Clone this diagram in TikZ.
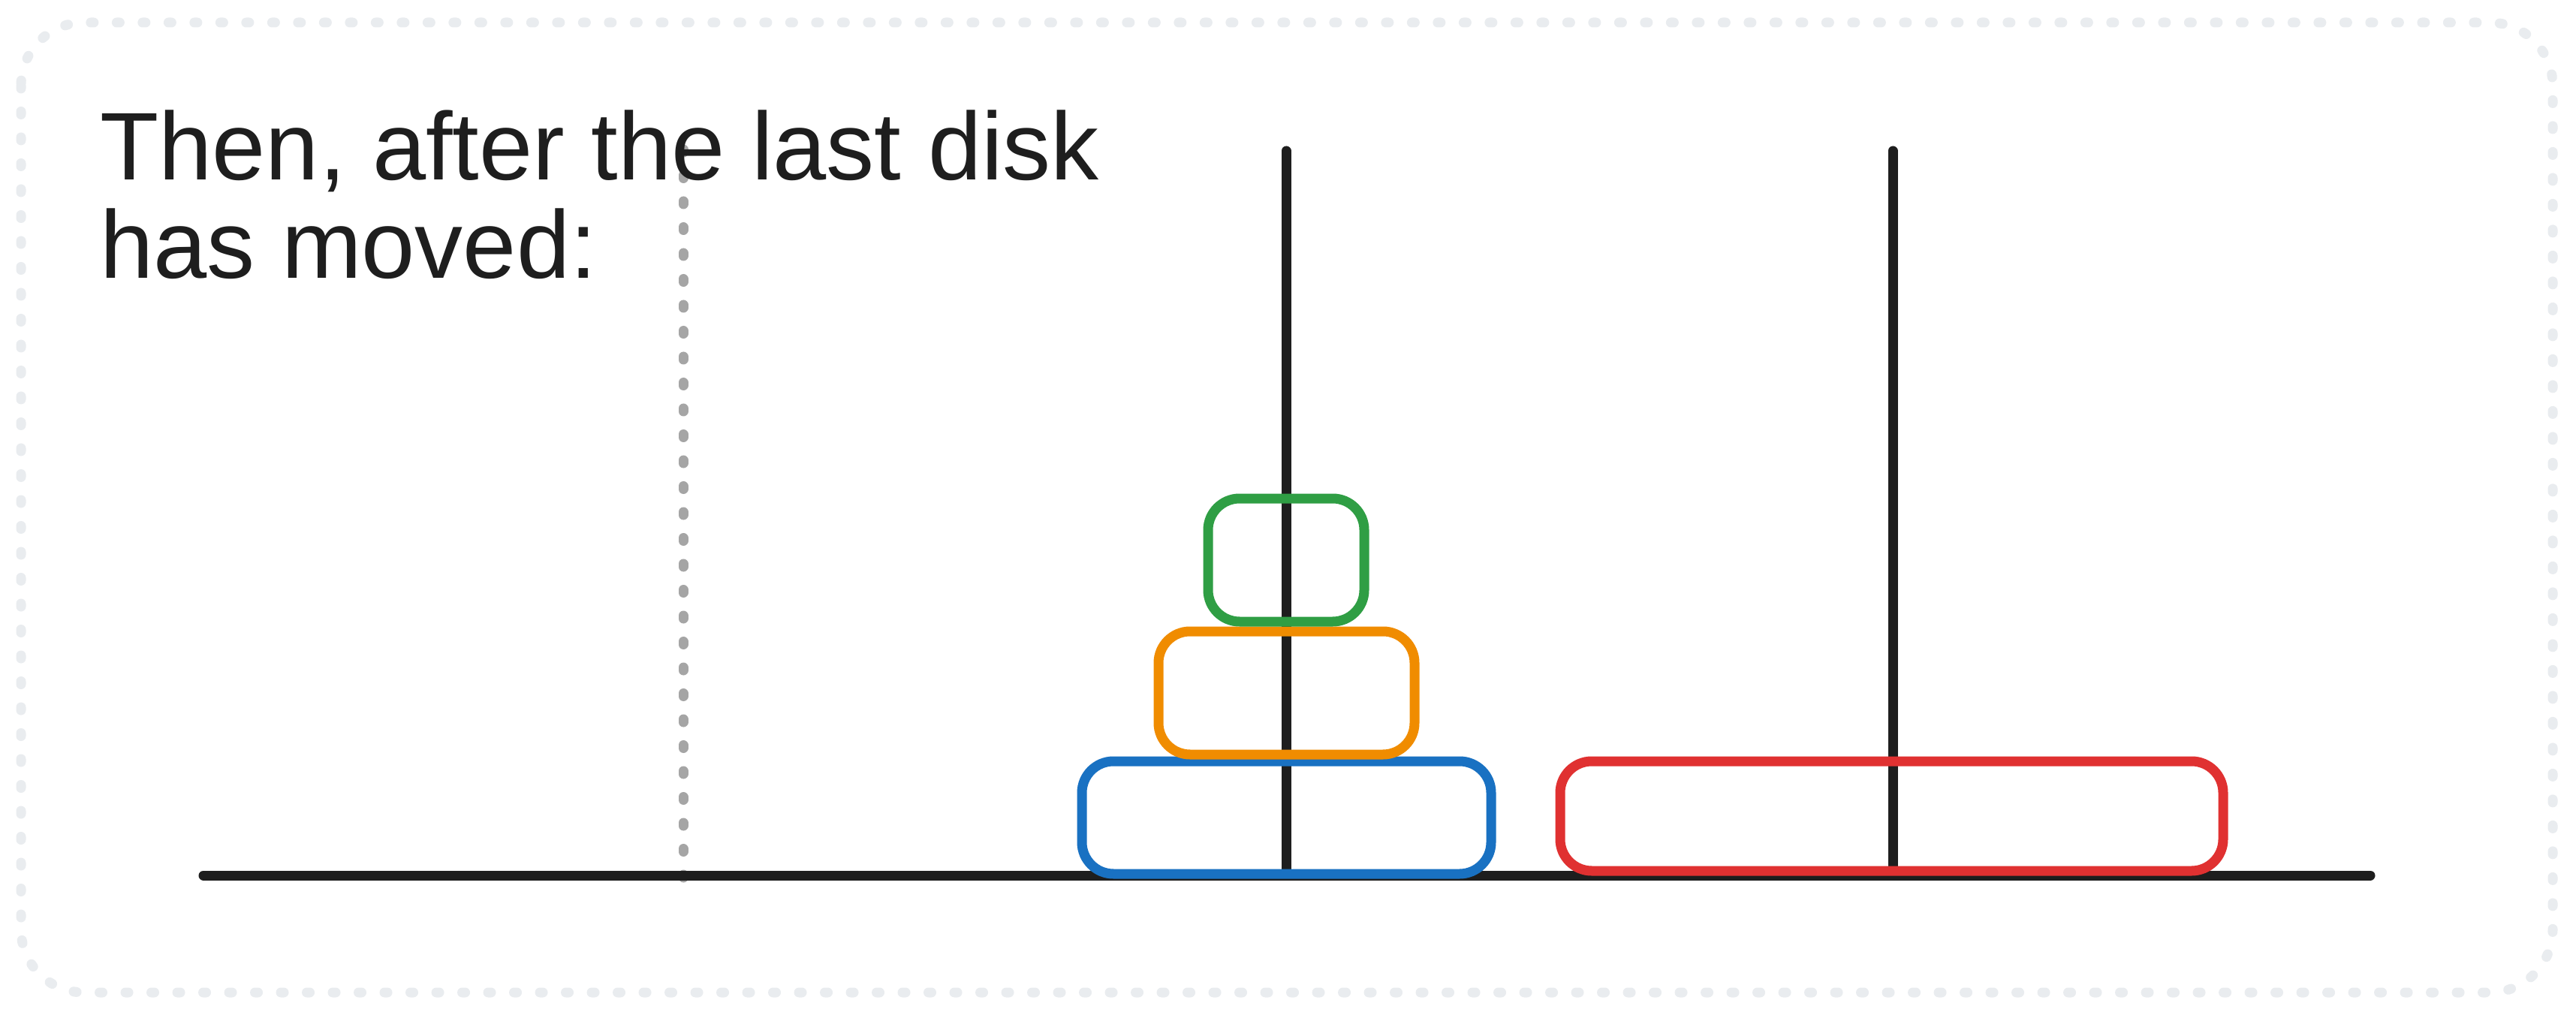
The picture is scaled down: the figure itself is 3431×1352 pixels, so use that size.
\documentclass[tikz,border=0pt]{standalone}
\usepackage{fontspec}
\setmainfont{Liberation Sans}
\definecolor{inkc}{HTML}{1E1E1E}
\definecolor{framec}{HTML}{E9ECEF}
\definecolor{guidec}{HTML}{A5A5A5}
\definecolor{dgreen}{HTML}{2F9E44}
\definecolor{dorange}{HTML}{F08C00}
\definecolor{dblue}{HTML}{1971C2}
\definecolor{dred}{HTML}{E03131}
\begin{document}
\begin{tikzpicture}[x=0.5pt,y=-0.5pt,
  ink/.style={line width=6.5pt, draw=inkc, line cap=round},
  frame/.style={line width=6.5pt, draw=framec, line cap=round, dash pattern=on 2pt off 15.25pt, rounded corners=42pt},
  guide/.style={line width=6.5pt, draw=guidec, line cap=round, dash pattern=on 2pt off 15.25pt},
  disk/.style={rectangle, line width=6.5pt, rounded corners=21pt, inner sep=0pt, outer sep=0pt},
  label/.style={anchor=base west, inner sep=0pt, text=inkc, font=\fontsize{64}{65.5}\selectfont}]
\useasboundingbox (0,0) rectangle (3431,1352);
\fill[white] (0,0) rectangle (3431,1352);
% frame
\draw[frame] (28,30) rectangle (3400,1322);
% coordinates
\coordinate (gtop) at (910,199);
\coordinate (gbot) at (910,1169);
\coordinate (gl) at (271,1166);
\coordinate (gr) at (3157,1166);
\coordinate (p1top) at (1713,201);
\coordinate (p1bot) at (1713,1166);
\coordinate (p2top) at (2521,201);
\coordinate (p2bot) at (2521,1166);
% guide
\draw[guide] (gtop) -- (gbot);
% ground and poles
\draw[ink] (gl) -- (gr);
\draw[ink] (p1top) -- (p1bot);
\draw[ink] (p2top) -- (p2bot);
% disks
\node[disk, draw=dblue, minimum width=272.5pt, minimum height=75pt] (blue) at (1713.5,1089) {};
\node[disk, draw=dorange, minimum width=170.5pt, minimum height=82pt] (orange) at (1713.5,923) {};
\node[disk, draw=dgreen, minimum width=104pt, minimum height=82pt] (green) at (1713,746) {};
\node[disk, draw=dred, minimum width=441.5pt, minimum height=73pt] (red) at (2519.5,1087) {};
% text
\node[label] (t1) at (133,240) {Then, after the last disk};
\node[label] (t2) at (133,371) {has moved:};
\end{tikzpicture}
\end{document}
